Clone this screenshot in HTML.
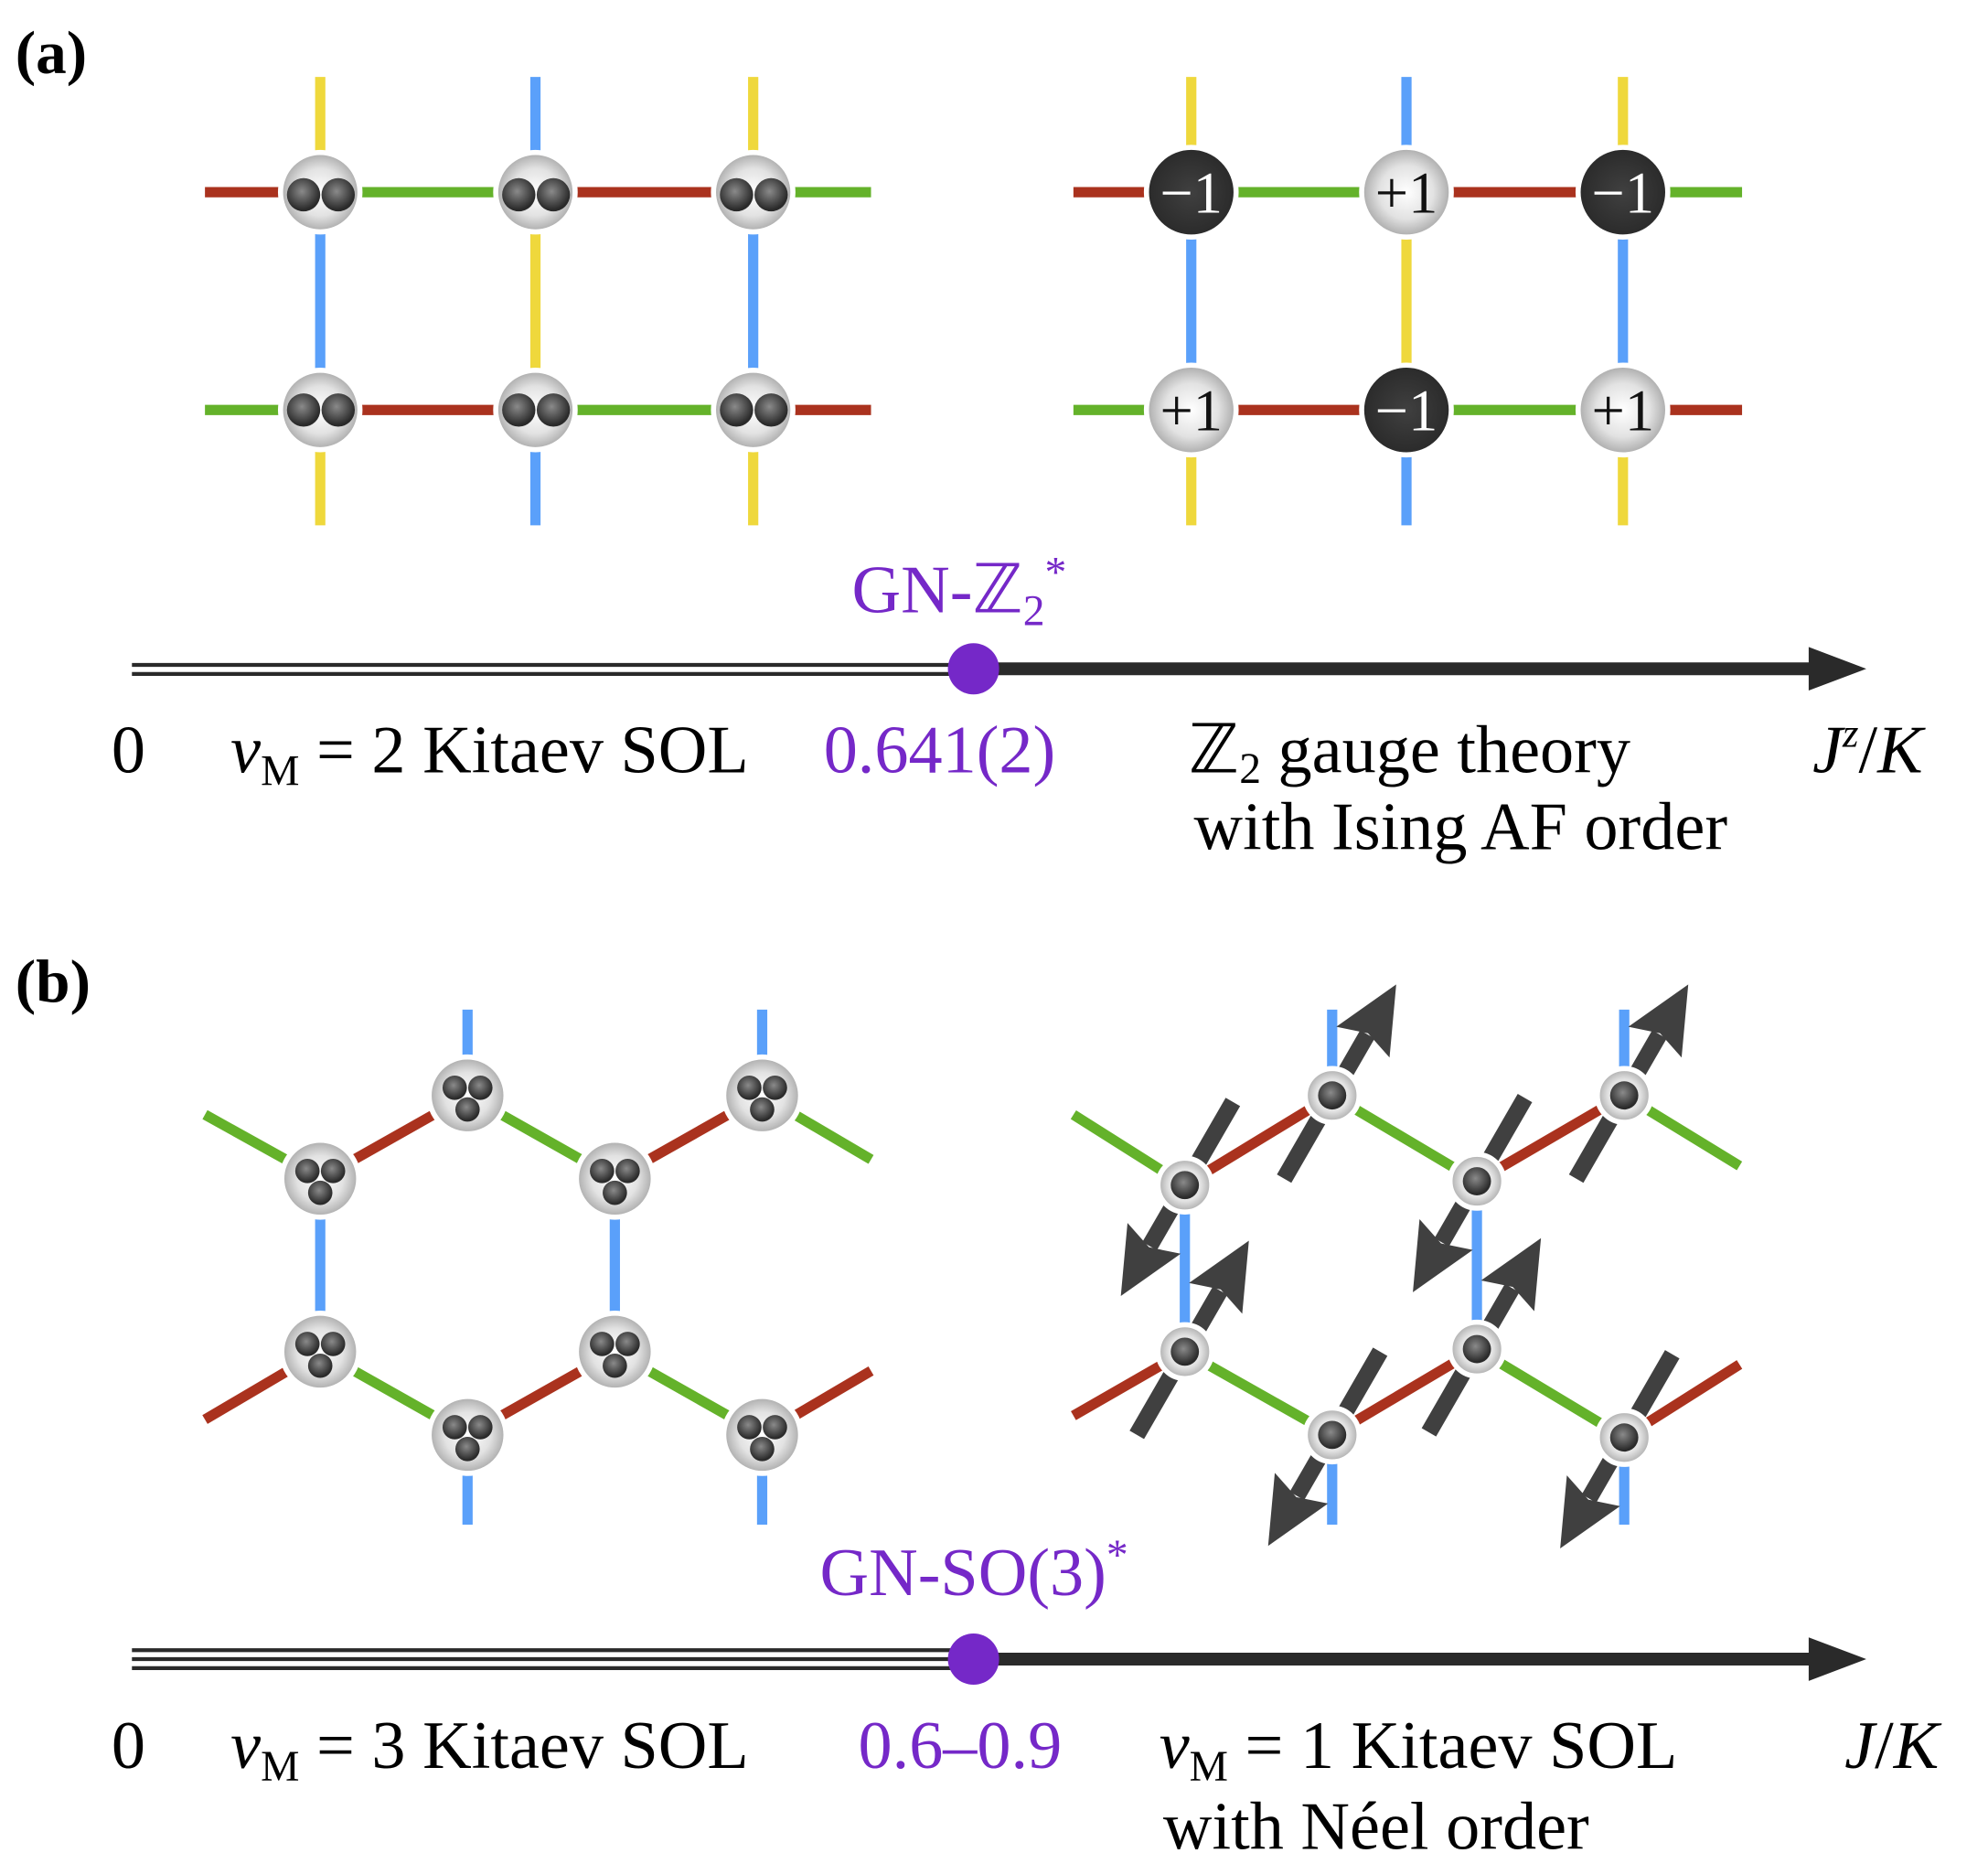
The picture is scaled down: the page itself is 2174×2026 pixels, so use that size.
<!DOCTYPE html>
<html><head><meta charset="utf-8"><style>
html,body{margin:0;padding:0;background:#fff;}
svg{display:block}
text{font-family:"Liberation Serif",serif;}
</style></head><body>
<svg width="2174" height="2026" viewBox="0 0 1552 1446.3" xmlns="http://www.w3.org/2000/svg">
<defs>
<radialGradient id="gn" cx="50%" cy="50%" r="50%"><stop offset="0" stop-color="#fff"/><stop offset="0.6" stop-color="#e2e2e2"/><stop offset="1" stop-color="#a9a9a9"/></radialGradient>
<radialGradient id="ball" cx="45%" cy="40%" r="55%"><stop offset="0" stop-color="#8a8a8a"/><stop offset="1" stop-color="#2a2a2a"/></radialGradient>
<radialGradient id="dk" cx="50%" cy="50%" r="50%"><stop offset="0" stop-color="#404040"/><stop offset="1" stop-color="#2a2a2a"/></radialGradient>
<g id="arr"><rect x="-75" y="-6.5" width="130" height="13" fill="#404040"/><polygon points="48,-24 100,0 48,24 56,0" fill="#404040"/></g>
</defs>
<g stroke-width="8" fill="none">
<line x1="160" y1="150" x2="250" y2="150" stroke="#aa321e"/>
<line x1="250" y1="150" x2="418" y2="150" stroke="#64b22a"/>
<line x1="418" y1="150" x2="588" y2="150" stroke="#aa321e"/>
<line x1="588" y1="150" x2="680" y2="150" stroke="#64b22a"/>
<line x1="160" y1="320" x2="250" y2="320" stroke="#64b22a"/>
<line x1="250" y1="320" x2="418" y2="320" stroke="#aa321e"/>
<line x1="418" y1="320" x2="588" y2="320" stroke="#64b22a"/>
<line x1="588" y1="320" x2="680" y2="320" stroke="#aa321e"/>
<line x1="250" y1="60" x2="250" y2="150" stroke="#efd83c"/>
<line x1="250" y1="150" x2="250" y2="320" stroke="#5aa0fa"/>
<line x1="250" y1="320" x2="250" y2="410" stroke="#efd83c"/>
<line x1="418" y1="60" x2="418" y2="150" stroke="#5aa0fa"/>
<line x1="418" y1="150" x2="418" y2="320" stroke="#efd83c"/>
<line x1="418" y1="320" x2="418" y2="410" stroke="#5aa0fa"/>
<line x1="588" y1="60" x2="588" y2="150" stroke="#efd83c"/>
<line x1="588" y1="150" x2="588" y2="320" stroke="#5aa0fa"/>
<line x1="588" y1="320" x2="588" y2="410" stroke="#efd83c"/>
<line x1="838" y1="150" x2="930" y2="150" stroke="#aa321e"/>
<line x1="930" y1="150" x2="1098" y2="150" stroke="#64b22a"/>
<line x1="1098" y1="150" x2="1267" y2="150" stroke="#aa321e"/>
<line x1="1267" y1="150" x2="1360" y2="150" stroke="#64b22a"/>
<line x1="838" y1="320" x2="930" y2="320" stroke="#64b22a"/>
<line x1="930" y1="320" x2="1098" y2="320" stroke="#aa321e"/>
<line x1="1098" y1="320" x2="1267" y2="320" stroke="#64b22a"/>
<line x1="1267" y1="320" x2="1360" y2="320" stroke="#aa321e"/>
<line x1="930" y1="60" x2="930" y2="150" stroke="#efd83c"/>
<line x1="930" y1="150" x2="930" y2="320" stroke="#5aa0fa"/>
<line x1="930" y1="320" x2="930" y2="410" stroke="#efd83c"/>
<line x1="1098" y1="60" x2="1098" y2="150" stroke="#5aa0fa"/>
<line x1="1098" y1="150" x2="1098" y2="320" stroke="#efd83c"/>
<line x1="1098" y1="320" x2="1098" y2="410" stroke="#5aa0fa"/>
<line x1="1267" y1="60" x2="1267" y2="150" stroke="#efd83c"/>
<line x1="1267" y1="150" x2="1267" y2="320" stroke="#5aa0fa"/>
<line x1="1267" y1="320" x2="1267" y2="410" stroke="#efd83c"/>
<line x1="365" y1="788" x2="365" y2="855" stroke="#5aa0fa"/>
<line x1="595" y1="788" x2="595" y2="855" stroke="#5aa0fa"/>
<line x1="365" y1="1120" x2="365" y2="1190" stroke="#5aa0fa"/>
<line x1="595" y1="1120" x2="595" y2="1190" stroke="#5aa0fa"/>
<line x1="250" y1="920" x2="250" y2="1055" stroke="#5aa0fa"/>
<line x1="480" y1="920" x2="480" y2="1055" stroke="#5aa0fa"/>
<line x1="160" y1="870" x2="250" y2="920" stroke="#64b22a"/>
<line x1="250" y1="920" x2="365" y2="855" stroke="#aa321e"/>
<line x1="365" y1="855" x2="480" y2="920" stroke="#64b22a"/>
<line x1="480" y1="920" x2="595" y2="855" stroke="#aa321e"/>
<line x1="595" y1="855" x2="680" y2="905" stroke="#64b22a"/>
<line x1="160" y1="1108" x2="250" y2="1055" stroke="#aa321e"/>
<line x1="250" y1="1055" x2="365" y2="1120" stroke="#64b22a"/>
<line x1="365" y1="1120" x2="480" y2="1055" stroke="#aa321e"/>
<line x1="480" y1="1055" x2="595" y2="1120" stroke="#64b22a"/>
<line x1="595" y1="1120" x2="680" y2="1070" stroke="#aa321e"/>
<line x1="1040" y1="788" x2="1040" y2="855" stroke="#5aa0fa"/>
<line x1="1268" y1="788" x2="1268" y2="855" stroke="#5aa0fa"/>
<line x1="1040" y1="1120" x2="1040" y2="1190" stroke="#5aa0fa"/>
<line x1="1268" y1="1122" x2="1268" y2="1190" stroke="#5aa0fa"/>
<line x1="925" y1="925" x2="925" y2="1055" stroke="#5aa0fa"/>
<line x1="1153" y1="922" x2="1153" y2="1053" stroke="#5aa0fa"/>
<line x1="838" y1="870" x2="925" y2="925" stroke="#64b22a"/>
<line x1="925" y1="925" x2="1040" y2="855" stroke="#aa321e"/>
<line x1="1040" y1="855" x2="1153" y2="922" stroke="#64b22a"/>
<line x1="1153" y1="922" x2="1268" y2="855" stroke="#aa321e"/>
<line x1="1268" y1="855" x2="1358" y2="910" stroke="#64b22a"/>
<line x1="838" y1="1105" x2="925" y2="1055" stroke="#aa321e"/>
<line x1="925" y1="1055" x2="1040" y2="1120" stroke="#64b22a"/>
<line x1="1040" y1="1120" x2="1153" y2="1053" stroke="#aa321e"/>
<line x1="1153" y1="1053" x2="1268" y2="1122" stroke="#64b22a"/>
<line x1="1268" y1="1122" x2="1358" y2="1065" stroke="#aa321e"/>
</g>
<use href="#arr" transform="translate(1040,855) rotate(-60)"/>
<use href="#arr" transform="translate(1268,855) rotate(-60)"/>
<use href="#arr" transform="translate(925,1055) rotate(-60)"/>
<use href="#arr" transform="translate(1153,1053) rotate(-60)"/>
<use href="#arr" transform="translate(925,925) rotate(120)"/>
<use href="#arr" transform="translate(1153,922) rotate(120)"/>
<use href="#arr" transform="translate(1040,1120) rotate(120)"/>
<use href="#arr" transform="translate(1268,1122) rotate(120)"/>
<g stroke="#fff" stroke-width="4">
<circle cx="250" cy="150" r="31" fill="url(#gn)"/><circle cx="418" cy="150" r="31" fill="url(#gn)"/><circle cx="588" cy="150" r="31" fill="url(#gn)"/>
<circle cx="250" cy="320" r="31" fill="url(#gn)"/><circle cx="418" cy="320" r="31" fill="url(#gn)"/><circle cx="588" cy="320" r="31" fill="url(#gn)"/>
<circle cx="930" cy="150" r="35" fill="url(#dk)"/><circle cx="1098" cy="150" r="35" fill="url(#gn)"/><circle cx="1267" cy="150" r="35" fill="url(#dk)"/>
<circle cx="930" cy="320" r="35" fill="url(#gn)"/><circle cx="1098" cy="320" r="35" fill="url(#dk)"/><circle cx="1267" cy="320" r="35" fill="url(#gn)"/>
<circle cx="365" cy="855" r="30" fill="url(#gn)"/><circle cx="595" cy="855" r="30" fill="url(#gn)"/>
<circle cx="250" cy="920" r="30" fill="url(#gn)"/><circle cx="480" cy="920" r="30" fill="url(#gn)"/>
<circle cx="250" cy="1055" r="30" fill="url(#gn)"/><circle cx="480" cy="1055" r="30" fill="url(#gn)"/>
<circle cx="365" cy="1120" r="30" fill="url(#gn)"/><circle cx="595" cy="1120" r="30" fill="url(#gn)"/>
<circle cx="1040" cy="855" r="21" fill="url(#gn)"/><circle cx="1268" cy="855" r="21" fill="url(#gn)"/>
<circle cx="925" cy="925" r="21" fill="url(#gn)"/><circle cx="1153" cy="922" r="21" fill="url(#gn)"/>
<circle cx="925" cy="1055" r="21" fill="url(#gn)"/><circle cx="1153" cy="1053" r="21" fill="url(#gn)"/>
<circle cx="1040" cy="1120" r="21" fill="url(#gn)"/><circle cx="1268" cy="1122" r="21" fill="url(#gn)"/>
</g>
<g fill="url(#ball)">
<circle cx="237" cy="152" r="13"/><circle cx="264" cy="152" r="13"/>
<circle cx="405" cy="152" r="13"/><circle cx="432" cy="152" r="13"/>
<circle cx="575" cy="152" r="13"/><circle cx="602" cy="152" r="13"/>
<circle cx="237" cy="320" r="13"/><circle cx="264" cy="320" r="13"/>
<circle cx="405" cy="320" r="13"/><circle cx="432" cy="320" r="13"/>
<circle cx="575" cy="320" r="13"/><circle cx="602" cy="320" r="13"/>
<circle cx="1040" cy="855" r="11"/><circle cx="1268" cy="855" r="11"/>
<circle cx="925" cy="925" r="11"/><circle cx="1153" cy="922" r="11"/>
<circle cx="925" cy="1055" r="11"/><circle cx="1153" cy="1053" r="11"/>
<circle cx="1040" cy="1120" r="11"/><circle cx="1268" cy="1122" r="11"/>
</g>
<g fill="url(#ball)">
<g transform="translate(365,855)"><circle cx="-10" cy="-6" r="9.5"/><circle cx="10" cy="-6" r="9.5"/><circle cx="0" cy="11" r="9.5"/></g>
<g transform="translate(595,855)"><circle cx="-10" cy="-6" r="9.5"/><circle cx="10" cy="-6" r="9.5"/><circle cx="0" cy="11" r="9.5"/></g>
<g transform="translate(250,920)"><circle cx="-10" cy="-6" r="9.5"/><circle cx="10" cy="-6" r="9.5"/><circle cx="0" cy="11" r="9.5"/></g>
<g transform="translate(480,920)"><circle cx="-10" cy="-6" r="9.5"/><circle cx="10" cy="-6" r="9.5"/><circle cx="0" cy="11" r="9.5"/></g>
<g transform="translate(250,1055)"><circle cx="-10" cy="-6" r="9.5"/><circle cx="10" cy="-6" r="9.5"/><circle cx="0" cy="11" r="9.5"/></g>
<g transform="translate(480,1055)"><circle cx="-10" cy="-6" r="9.5"/><circle cx="10" cy="-6" r="9.5"/><circle cx="0" cy="11" r="9.5"/></g>
<g transform="translate(365,1120)"><circle cx="-10" cy="-6" r="9.5"/><circle cx="10" cy="-6" r="9.5"/><circle cx="0" cy="11" r="9.5"/></g>
<g transform="translate(595,1120)"><circle cx="-10" cy="-6" r="9.5"/><circle cx="10" cy="-6" r="9.5"/><circle cx="0" cy="11" r="9.5"/></g>
</g>
<g font-size="46" text-anchor="middle">
<text x="930" y="166" fill="#fff">−1</text><text x="1098" y="166" fill="#111">+1</text><text x="1267" y="166" fill="#fff">−1</text>
<text x="930" y="336" fill="#111">+1</text><text x="1098" y="336" fill="#fff">−1</text><text x="1267" y="336" fill="#111">+1</text>
</g>
<line x1="103" y1="519" x2="760" y2="519" stroke="#2a2a2a" stroke-width="3"/>
<line x1="103" y1="526" x2="760" y2="526" stroke="#2a2a2a" stroke-width="3"/>
<line x1="760" y1="522" x2="1420" y2="522" stroke="#2a2a2a" stroke-width="10"/>
<polygon points="1412,505 1457,522 1412,539" fill="#2a2a2a"/>
<circle cx="760" cy="522" r="20" fill="#7528c8"/>
<line x1="103" y1="1288" x2="760" y2="1288" stroke="#2a2a2a" stroke-width="3"/>
<line x1="103" y1="1295" x2="760" y2="1295" stroke="#2a2a2a" stroke-width="3"/>
<line x1="103" y1="1302" x2="760" y2="1302" stroke="#2a2a2a" stroke-width="3"/>
<line x1="760" y1="1295" x2="1420" y2="1295" stroke="#2a2a2a" stroke-width="10"/>
<polygon points="1412,1278 1457,1295 1412,1312" fill="#2a2a2a"/>
<circle cx="760" cy="1295" r="20" fill="#7528c8"/>
<text x="12" y="57" font-size="48" font-weight="bold">(a)</text>
<text x="12" y="782" font-size="48" font-weight="bold">(b)</text>
<g font-size="53">
<text x="665" y="478" fill="#7528c8">GN-ℤ<tspan font-size="34" dy="10">2</tspan><tspan font-size="34" dy="-30">*</tspan></text>
<text x="87" y="603">0</text>
<text x="180" y="603"><tspan font-style="italic">ν</tspan><tspan font-size="34" dy="10">M</tspan><tspan dy="-10"> = 2 Kitaev SOL</tspan></text>
<text x="643" y="603" fill="#7528c8">0.641(2)</text>
<text x="928" y="603">ℤ<tspan font-size="34" dy="8">2</tspan><tspan dy="-8"> gauge theory</tspan></text>
<text x="932" y="663">with Ising AF order</text>
<text x="1415" y="603" font-style="italic">J<tspan font-size="32" dy="-20">z</tspan><tspan dy="20" font-style="normal">/</tspan>K</text>
<text x="640" y="1245" fill="#7528c8">GN-SO(3)<tspan font-size="34" dy="-20">*</tspan></text>
<text x="87" y="1380">0</text>
<text x="180" y="1380"><tspan font-style="italic">ν</tspan><tspan font-size="34" dy="10">M</tspan><tspan dy="-10"> = 3 Kitaev SOL</tspan></text>
<text x="670" y="1380" fill="#7528c8">0.6–0.9</text>
<text x="905" y="1380"><tspan font-style="italic">ν</tspan><tspan font-size="34" dy="10">M</tspan><tspan dy="-10"> = 1 Kitaev SOL</tspan></text>
<text x="908" y="1443">with Néel order</text>
<text x="1440" y="1380" font-style="italic">J<tspan font-style="normal">/</tspan>K</text>
</g>
</svg>
</body></html>
